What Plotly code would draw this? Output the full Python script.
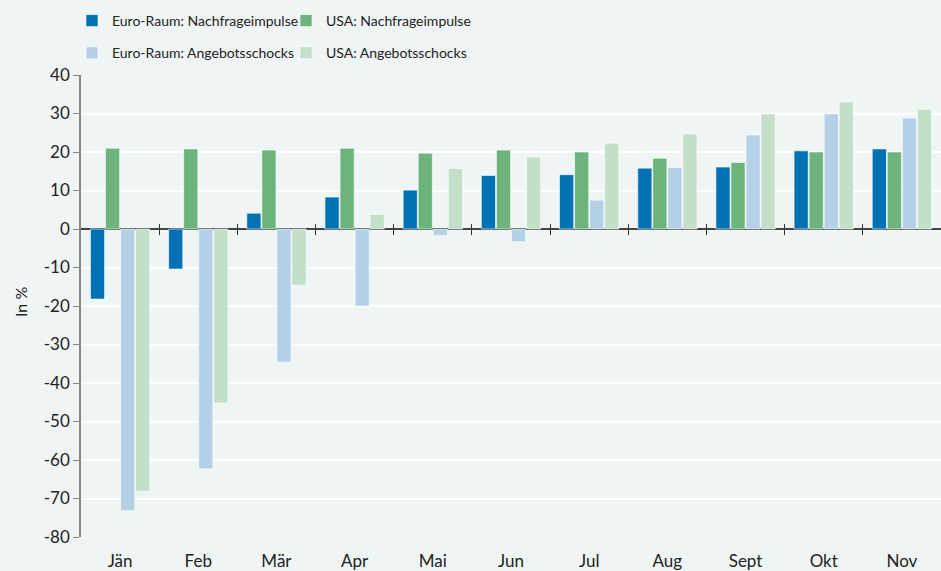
import plotly.graph_objects as go

months = ["Jän", "Feb", "Mär", "Apr", "Mai", "Jun", "Jul", "Aug", "Sept", "Okt", "Nov"]
euro_nachfrage = [-18.2, -10.4, 4.1, 8.3, 10.1, 13.9, 14.1, 15.8, 16.1, 20.3, 20.8]
usa_nachfrage = [21.0, 20.8, 20.5, 21.0, 19.7, 20.5, 20.0, 18.4, 17.3, 20.0, 20.0]
euro_angebot = [-73.2, -62.3, -34.6, -20.0, -1.7, -3.3, 7.5, 16.0, 24.4, 29.9, 28.8]
usa_angebot = [-68.1, -45.2, -14.6, 3.8, 15.7, 18.7, 22.3, 24.7, 29.9, 33.0, 31.1]
y_ticks = [40, 30, 20, 10, 0, -10, -20, -30, -40, -50, -60, -70, -80]
y_tick_labels = ["40", "30", "20", "10", "0", "-10", "-20", "-30", "-40", "-50", "-60", "-70", "-80"]

FONT = "Lato"
BG = "#eff5f5"
series = [
    ("Euro-Raum: Nachfrageimpulse", euro_nachfrage, "#0072b4", "legend", "g1"),
    ("USA: Nachfrageimpulse", usa_nachfrage, "#6cb37c", "legend2", "g2"),
    ("Euro-Raum: Angebotsschocks", euro_angebot, "#b4d0e7", "legend", "g3"),
    ("USA: Angebotsschocks", usa_angebot, "#c3dfc7", "legend2", "g4"),
]

fig = go.Figure()
for name, vals, color, leg, grp in series:
    fig.add_trace(go.Bar(
        x=months, y=vals, name=name, legend=leg, legendgroup=grp,
        marker=dict(color=color, line=dict(color="rgba(255,255,255,0.6)", width=1)),
    ))

# helper empty traces for the tick axes on the zero line
fig.add_trace(go.Scatter(x=[], y=[], xaxis="x2", showlegend=False, hoverinfo="skip"))
fig.add_trace(go.Scatter(x=[], y=[], xaxis="x3", showlegend=False, hoverinfo="skip"))

n = len(months)
bounds = [i + 0.5 for i in range(n - 1)]
zero_pos = (0 - min(y_ticks)) / (max(y_ticks) - min(y_ticks))

fig.update_layout(
    width=941, height=571,
    paper_bgcolor=BG, plot_bgcolor=BG,
    margin=dict(l=81, r=0, t=75, b=34, autoexpand=False),
    font=dict(family=FONT, size=16, color="#222222"),
    barmode="group", bargap=0.23, bargroupgap=0.06,
    showlegend=True,
    legend=dict(xref="container", yref="container", x=72/941, y=1-5/571,
                xanchor="left", yanchor="top", bgcolor="rgba(0,0,0,0)",
                tracegroupgap=11, traceorder="grouped", font=dict(size=14)),
    legend2=dict(xref="container", yref="container", x=286/941, y=1-5/571,
                 xanchor="left", yanchor="top", bgcolor="rgba(0,0,0,0)",
                 tracegroupgap=11, traceorder="grouped", font=dict(size=14)),
    xaxis=dict(type="category", showgrid=False, showline=False, zeroline=False,
               ticks="outside", ticklen=9, tickcolor="rgba(0,0,0,0)",
               tickfont=dict(size=17)),
    xaxis2=dict(overlaying="x", anchor="free", position=zero_pos, range=[-0.5, n - 0.5],
                tickmode="array", tickvals=bounds, showticklabels=False,
                ticks="outside", ticklen=5, tickcolor="#333333", tickwidth=1.2,
                showgrid=False, zeroline=False, showline=False),
    xaxis3=dict(overlaying="x", anchor="free", position=zero_pos, range=[-0.5, n - 0.5],
                tickmode="array", tickvals=bounds, showticklabels=False,
                ticks="inside", ticklen=5, tickcolor="#333333", tickwidth=1.2,
                showgrid=False, zeroline=False, showline=False),
    yaxis=dict(range=[min(y_ticks), max(y_ticks)], tickmode="array",
               tickvals=y_ticks, ticktext=y_tick_labels,
               showgrid=True, gridcolor="#ffffff", gridwidth=2,
               zeroline=True, zerolinecolor="#444444", zerolinewidth=1.5,
               showline=True, linecolor="#888888", linewidth=1.5,
               ticks="outside", ticklen=6, tickcolor="#888888",
               tickfont=dict(size=17)),
    annotations=[dict(text="In %", textangle=-90, showarrow=False,
                      xref="paper", yref="paper", x=(20 - 81) / 860, y=(537 - 302) / 462,
                      xanchor="center", yanchor="middle", font=dict(size=16))],
)

fig.write_html("out.html", config={"displayModeBar": False},
               post_script="document.body.style.margin='0';")
